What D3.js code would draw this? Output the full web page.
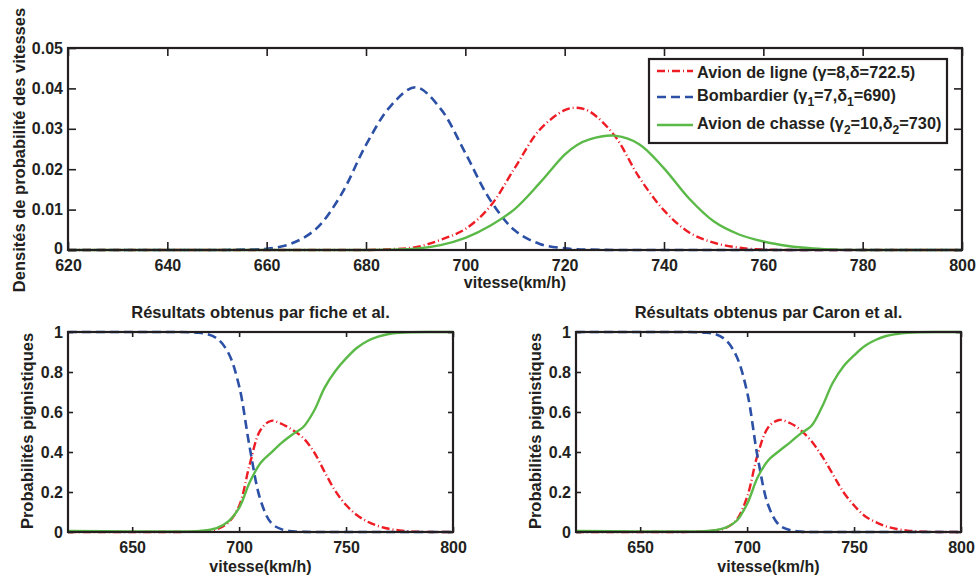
<!DOCTYPE html>
<html>
<head>
<meta charset="utf-8">
<script src="https://cdn.jsdelivr.net/npm/d3@7"></script>
<style>
  html, body { margin: 0; padding: 0; background: #fff; }
  svg { display: block; }
  text { font-family: "Liberation Sans", Arial, Helvetica, sans-serif; font-weight: bold; fill: #231f20; }
</style>
</head>
<body>
<svg id="chart" width="977" height="581"></svg>
<script>
// ---------- DATA ----------
const speedTop   = [620,640,650,655,660,665,670,675,680,685,690,695,700,705,710,715,720,722.5,725,730,735,740,745,750,755,760,765,770,775,780,790,800];
const densLigne  = [0,0,0,0,0,0,0,0,0,0.0002,0.0007,0.0025,0.0052,0.0108,0.0204,0.0298,0.0346,0.0352,0.0343,0.0284,0.018,0.0098,0.0044,0.0018,0.0006,0.0001,0,0,0,0,0,0];
const densBomb   = [0,0,0,0.0001,0.0003,0.0016,0.0053,0.0137,0.026,0.0357,0.0403,0.035,0.024,0.0124,0.0048,0.0015,0.0004,0.0002,0.0001,0,0,0,0,0,0,0,0,0,0,0,0,0];
const densChasse = [0,0,0,0,0,0,0,0,0,0.0001,0.0003,0.0012,0.003,0.006,0.0102,0.0166,0.0236,0.026,0.0274,0.0283,0.0262,0.0202,0.0128,0.0071,0.0039,0.0021,0.001,0.0004,0.0001,0,0,0];

const speedBot    = [620,650,670,680,685,690,695,700,705,710,715,720,725,730,735,740,745,750,755,760,765,770,775,780,790,800];
const ficheLigne  = [0,0,0,0.002,0.006,0.015,0.048,0.13,0.34,0.51,0.556,0.54,0.51,0.47,0.40,0.30,0.205,0.135,0.085,0.052,0.03,0.016,0.008,0.003,0,0];
const ficheBomb   = [1,1,1,0.997,0.99,0.965,0.895,0.73,0.42,0.16,0.045,0.013,0.003,0.001,0,0,0,0,0,0,0,0,0,0,0,0];
const ficheChasse = [0.005,0.003,0.003,0.004,0.009,0.022,0.053,0.12,0.25,0.345,0.397,0.447,0.488,0.525,0.605,0.722,0.805,0.868,0.92,0.955,0.977,0.99,0.996,0.999,1,1];
const caronLigne  = [0,0,0,0.003,0.008,0.02,0.06,0.175,0.39,0.525,0.56,0.545,0.51,0.455,0.38,0.29,0.20,0.133,0.08,0.05,0.028,0.015,0.007,0.003,0,0];
const caronBomb   = [1,1,1,0.997,0.99,0.96,0.88,0.70,0.37,0.13,0.035,0.01,0.002,0,0,0,0,0,0,0,0,0,0,0,0,0];
const caronChasse = [0.005,0.003,0.003,0.004,0.009,0.022,0.055,0.14,0.275,0.36,0.405,0.447,0.492,0.53,0.625,0.745,0.828,0.883,0.93,0.96,0.98,0.99,0.996,0.999,1,1];

const topXTicks = [620,640,660,680,700,720,740,760,780,800];
const topYTicks = [0,0.01,0.02,0.03,0.04,0.05];
const botXTicks = [650,700,750,800];
const botYTicks = [0,0.2,0.4,0.6,0.8,1];

const topYLabel = "Densités de probabilité des vitesses";
const xLabel = "vitesse(km/h)";
const botYLabel = "Probabilités pignistiques";
const titleFiche = "Résultats obtenus par fiche et al.";
const titleCaron = "Résultats obtenus par Caron et al.";

// ---------- STYLES ----------
const RED = "#ee1c25", BLUE = "#2b50a5", GREEN = "#5ab947", INK = "#231f20";
const styleLigne  = {color: RED,   dash: "8,3,1,3", width: 2.4};
const styleBomb   = {color: BLUE,  dash: "9,5",     width: 2.6};
const styleChasse = {color: GREEN, dash: null,      width: 2.4};

const svg = d3.select("#chart");

function fmt(d) { return d === 0 ? "0" : String(+d.toFixed(2)); }

function panel(opt) {
  const {left, right, top, bottom, xDomain, yDomain, xTicks, yTicks, tick, series, xs, zeroLift} = opt;
  const x = d3.scaleLinear().domain(xDomain).range([left, right]);
  const y = d3.scaleLinear().domain(yDomain).range([bottom, top]);
  const g = svg.append("g");

  const line = d3.line().x(d => x(d[0])).y(d => y(d[1])).curve(d3.curveCatmullRom.alpha(0.5));
  series.forEach(s => {
    g.append("path")
      .attr("d", line(xs.map((v, i) => [v, s.values[i]])))
      .attr("fill", "none")
      .attr("stroke", s.style.color)
      .attr("stroke-width", s.style.width)
      .attr("stroke-dasharray", s.style.dash)
      .attr("stroke-linejoin", "round");
  });

  const styleAxis = (sel, showLabels) => {
    sel.select(".domain").remove();
    sel.selectAll(".tick line").attr("stroke", INK).attr("stroke-width", 1.6);
    sel.selectAll("text")
      .attr("font-size", 16)
      .attr("font-family", "'Liberation Sans', Arial, Helvetica, sans-serif")
      .attr("font-weight", "bold")
      .attr("fill", INK);
    if (!showLabels) sel.selectAll("text").remove();
  };

  g.append("g").attr("transform", `translate(0,${bottom})`)
    .call(d3.axisBottom(x).tickValues(xTicks).tickSize(-tick).tickPadding(10).tickFormat(fmt))
    .call(s => styleAxis(s, true));
  g.append("g").attr("transform", `translate(0,${top})`)
    .call(d3.axisTop(x).tickValues(xTicks).tickSize(-tick))
    .call(s => styleAxis(s, false));
  const ya = g.append("g").attr("transform", `translate(${left},0)`)
    .call(d3.axisLeft(y).tickValues(yTicks).tickSize(-tick).tickPadding(5).tickFormat(fmt))
    .call(s => styleAxis(s, true));
  if (zeroLift) {
    ya.selectAll(".tick").filter(d => d === 0).select("text").attr("y", -zeroLift);
  }
  g.append("g").attr("transform", `translate(${right},0)`)
    .call(d3.axisRight(y).tickValues(yTicks).tickSize(-tick))
    .call(s => styleAxis(s, false));

  g.append("rect")
    .attr("x", left).attr("y", top)
    .attr("width", right - left).attr("height", bottom - top)
    .attr("fill", "none").attr("stroke", INK).attr("stroke-width", 2.2);
  return {x, y, g};
}

// ---------- TOP PANEL ----------
panel({
  left: 68, right: 962, top: 48, bottom: 250,
  xDomain: [620, 800], yDomain: [0, 0.05],
  xTicks: topXTicks, yTicks: topYTicks, tick: 8, zeroLift: 2,
  xs: speedTop,
  series: [
    {values: densLigne, style: styleLigne},
    {values: densBomb, style: styleBomb},
    {values: densChasse, style: styleChasse}
  ]
});
svg.append("text").attr("x", 515).attr("y", 288).attr("text-anchor", "middle")
  .attr("font-size", 16).text(xLabel);
svg.append("text").attr("transform", "translate(25,150) rotate(-90)")
  .attr("text-anchor", "middle").attr("font-size", 16.5).text(topYLabel);

// legend
const lg = svg.append("g");
lg.append("rect").attr("x", 649).attr("y", 59).attr("width", 298).attr("height", 84)
  .attr("fill", "#fff").attr("stroke", INK).attr("stroke-width", 2.2);
const legendRows = [
  {style: styleLigne, y: 71, ty: 78, parts: [["Avion de ligne (γ=8,δ=722.5)", false]]},
  {style: styleBomb, y: 97, ty: 101, parts: [["Bombardier (γ", false], ["1", true], ["=7,δ", false], ["1", true], ["=690)", false]]},
  {style: styleChasse, y: 125, ty: 129, parts: [["Avion de chasse (γ", false], ["2", true], ["=10,δ", false], ["2", true], ["=730)", false]]}
];
legendRows.forEach(r => {
  lg.append("line").attr("x1", 657).attr("x2", 693).attr("y1", r.y).attr("y2", r.y)
    .attr("stroke", r.style.color).attr("stroke-width", r.style.width)
    .attr("stroke-dasharray", r.style.dash);
  const t = lg.append("text").attr("x", 697).attr("y", r.ty).attr("font-size", 16.3);
  let sub = false;
  r.parts.forEach(([txt, isSub]) => {
    const ts = t.append("tspan").text(txt);
    if (isSub && !sub) { ts.attr("dy", 5).attr("font-size", 12); sub = true; }
    else if (isSub) { ts.attr("font-size", 12); }
    else if (!isSub && sub) { ts.attr("dy", -5); sub = false; }
  });
});

// ---------- BOTTOM PANELS ----------
const bottoms = [
  {left: 68, right: 453, title: titleFiche, ylx: 33, data: [ficheLigne, ficheBomb, ficheChasse]},
  {left: 576, right: 961, title: titleCaron, ylx: 541, data: [caronLigne, caronBomb, caronChasse]}
];
bottoms.forEach(b => {
  panel({
    left: b.left, right: b.right, top: 332, bottom: 532,
    xDomain: [620, 800], yDomain: [0, 1],
    xTicks: botXTicks, yTicks: botYTicks, tick: 5,
    xs: speedBot,
    series: [
      {values: b.data[0], style: styleLigne},
      {values: b.data[1], style: styleBomb},
      {values: b.data[2], style: styleChasse}
    ]
  });
  const cx = (b.left + b.right) / 2;
  svg.append("text").attr("x", cx).attr("y", 318).attr("text-anchor", "middle")
    .attr("font-size", 16.5).text(b.title);
  svg.append("text").attr("x", cx).attr("y", 572).attr("text-anchor", "middle")
    .attr("font-size", 16).text(xLabel);
  svg.append("text").attr("transform", `translate(${b.ylx},431) rotate(-90)`)
    .attr("text-anchor", "middle").attr("font-size", 16.5).text(botYLabel);
});
</script>
</body>
</html>
